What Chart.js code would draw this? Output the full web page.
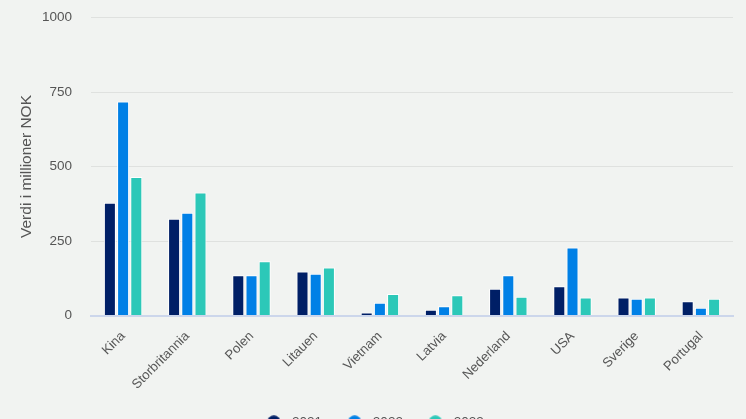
<!DOCTYPE html>
<html>
<head>
<meta charset="utf-8">
<style>
  html, body { margin: 0; padding: 0; background: #f1f3f1; overflow: hidden; }
  #wrap { width: 746px; height: 419px; overflow: hidden; }
  canvas { display: block; }
</style>
<script src="https://cdn.jsdelivr.net/npm/chart.js@4/dist/chart.umd.min.js"></script>
</head>
<body>
<div id="wrap"><canvas id="barChart" width="746" height="439"></canvas></div>
<script>
var categories = ["Kina", "Storbritannia", "Polen", "Litauen", "Vietnam", "Latvia", "Nederland", "USA", "Sverige", "Portugal"];
var years = ["2021", "2022", "2023"];
var values2021 = [378, 325, 135, 148, 10, 19, 90, 98, 60, 48];
var values2022 = [718, 345, 135, 140, 43, 31, 135, 228, 56, 26];
var values2023 = [465, 413, 182, 161, 72, 68, 63, 60, 60, 56];
var yTicks = [0, 250, 500, 750, 1000];

var textColor = "#555555";
var fontFamily = '"Liberation Sans", Arial, sans-serif';

// legend dot as a small canvas, so the gap to the text can be set with pointStyleWidth
function legendDot(color) {
    var c = document.createElement("canvas");
    c.width = 14;
    c.height = 14;
    var g = c.getContext("2d");
    g.fillStyle = color;
    g.beginPath();
    g.arc(7, 7, 6.8, 0, Math.PI * 2);
    g.fill();
    return c;
}

function barSet(label, data, color) {
    return {
        label: label,
        data: data,
        backgroundColor: color,
        borderColor: "#ffffff",
        borderWidth: 1,
        categoryPercentage: 0.617,
        barPercentage: 0.91,
        pointStyle: legendDot(color),
    };
}

var ctx = document.getElementById("barChart").getContext("2d");

new Chart(ctx, {
    type: "bar",
    data: {
        labels: categories,
        datasets: [
            barSet(years[0], values2021, "#001f66"),
            barSet(years[1], values2022, "#0080e6"),
            barSet(years[2], values2023, "#2cc8b8"),
        ],
    },
    options: {
        responsive: false,
        animation: false,
        layout: {
            padding: { top: 17.5, right: 13, bottom: 0, left: 13 },
        },
        plugins: {
            tooltip: { enabled: false },
            legend: {
                position: "bottom",
                labels: {
                    usePointStyle: true,
                    pointStyleWidth: 23,
                    boxHeight: 10,
                    padding: 21,
                    color: textColor,
                    font: { size: 13.5, family: fontFamily },
                },
            },
        },
        scales: {
            x: {
                grid: { display: false, drawTicks: false },
                border: { color: "#ccd6eb", width: 2 },
                ticks: {
                    autoSkip: false,
                    minRotation: 45,
                    maxRotation: 45,
                    color: textColor,
                    padding: 13,
                    font: { size: 13.2, family: fontFamily },
                },
                afterFit: function (scale) {
                    scale.height = 79;
                },
            },
            y: {
                min: 0,
                max: 1000,
                afterBuildTicks: function (scale) {
                    scale.ticks = yTicks.map(function (v) { return { value: v }; });
                },
                grid: { color: "#dfe1df", drawTicks: false },
                border: { display: false },
                ticks: {
                    color: textColor,
                    padding: 19,
                    font: { size: 13.5, family: fontFamily },
                    callback: function (value) {
                        return String(value);
                    },
                },
                title: {
                    display: true,
                    text: "Verdi i millioner NOK",
                    color: textColor,
                    padding: { top: 4, bottom: 0 },
                    font: { size: 15.5, family: fontFamily },
                },
                afterFit: function (scale) {
                    scale.width = 78;
                    scale.paddingTop = 0;
                    scale.paddingBottom = 0;
                },
            },
        },
    },
});
</script>
</body>
</html>
